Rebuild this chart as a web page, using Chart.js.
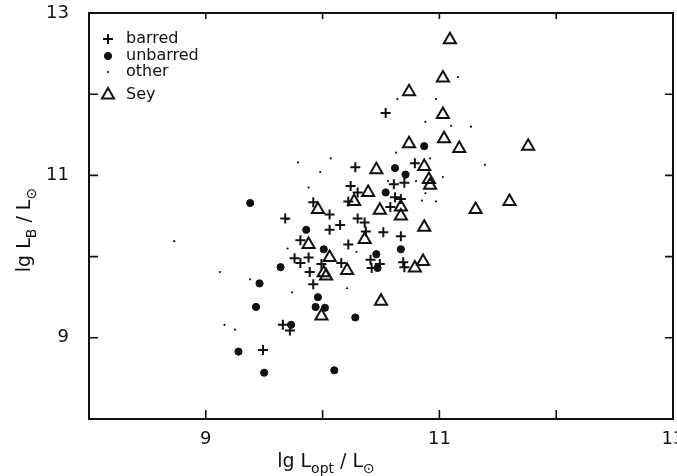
<!DOCTYPE html>
<html>
<head>
<meta charset="utf-8">
<script src="https://cdn.jsdelivr.net/npm/chart.js@4.4.0/dist/chart.umd.min.js"></script>
<style>
  html,body{margin:0;padding:0;background:#fff}
  #wrap{width:677px;height:476px;position:relative}
</style>
</head>
<body>
<div id="wrap"><canvas id="chart"></canvas></div>
<script>
/* ── Data: lg L_opt (x) vs lg L_B (y) ── */
const BARRED_X = [10.54,10.28,10.79,10.24,10.30,10.22,10.61,10.70,10.62,10.58,10.67,9.92,9.68,10.06,10.06,10.15,10.30,10.36,10.52,10.37,10.67,9.81,10.22,9.76,9.88,9.81,9.99,10.16,10.41,10.49,10.69,10.70,10.42,9.89,9.92,9.66,9.72,9.49];
const BARRED_Y = [11.77,11.10,11.15,10.87,10.79,10.68,10.89,10.91,10.73,10.61,10.71,10.67,10.47,10.52,10.33,10.39,10.47,10.42,10.30,10.31,10.25,10.20,10.15,9.98,9.99,9.92,9.91,9.92,9.96,9.91,9.93,9.87,9.86,9.81,9.66,9.16,9.09,8.85];

const UNBARRED_X = [9.38,9.86,10.87,10.62,10.71,10.54,10.01,10.46,10.67,10.47,10.28,9.64,9.46,9.43,9.96,9.94,10.02,9.73,9.28,9.50,10.10];
const UNBARRED_Y = [10.66,10.33,11.36,11.09,11.01,10.79,10.09,10.03,10.09,9.86,9.25,9.87,9.67,9.38,9.50,9.38,9.37,9.16,8.83,8.57,8.60];

const OTHER_X = [11.16,10.64,10.97,10.88,11.10,11.27,10.63,11.39,10.92,11.03,10.85,10.97,10.80,10.56,9.79,10.07,9.98,9.88,10.88,9.70,10.29,8.73,9.70,9.12,9.38,9.16,9.25,9.74,10.21];
const OTHER_Y = [12.21,11.94,11.94,11.66,11.61,11.60,11.28,11.13,11.21,10.98,10.69,10.68,10.93,10.93,11.16,11.21,11.04,10.85,10.78,10.46,10.06,10.19,10.10,9.81,9.72,9.16,9.10,9.56,9.61];

const SEY_X = [11.09,11.03,10.74,11.03,10.74,11.04,11.17,11.76,10.46,10.87,10.91,10.92,9.96,10.39,10.27,10.49,10.67,10.67,11.31,11.60,10.87,10.36,9.88,10.06,10.86,10.21,10.79,10.01,10.03,10.50,9.99];
const SEY_Y = [12.67,12.20,12.03,11.75,11.39,11.45,11.33,11.36,11.07,11.11,10.95,10.88,10.58,10.79,10.68,10.57,10.61,10.50,10.58,10.68,10.36,10.21,10.15,9.99,9.94,9.83,9.86,9.80,9.76,9.45,9.27];

const AXIS_MIN = 8, AXIS_MAX = 13;
const TICK_VALUES = [9,10,11,12];
const LABELLED_TICKS = [9,11,13];
const LEGEND_LABELS = ['barred','unbarred','other','Sey'];

const INK = '#111';
const FONT = "'DejaVu Sans', sans-serif";

const pts = (xs, ys) => xs.map((x,i) => ({x, y:ys[i]}));

/* ── Styles per class ── */
const STYLES = [
  { pointStyle:'cross',    pointRadius:5,   pointBorderWidth:2,   pointBackgroundColor:INK, pointBorderColor:INK },
  { pointStyle:'circle',   pointRadius:3.6, pointBorderWidth:1,   pointBackgroundColor:INK, pointBorderColor:INK },
  { pointStyle:'circle',   pointRadius:1.1, pointBorderWidth:0,   pointBackgroundColor:INK, pointBorderColor:INK },
  { pointStyle:'triangle', pointRadius:7,   pointBorderWidth:2,   pointBackgroundColor:'rgba(255,255,255,0)', pointBorderColor:INK },
];

/* ── Frame, inward ticks, legend, axis titles ── */
function drawRich(ctx, parts, x, y, size) {
  // parts: [text, isSub]
  let w = 0;
  parts.forEach(([t,sub]) => { ctx.font = `${sub?Math.round(size*0.72):size}px ${FONT}`; w += ctx.measureText(t).width; });
  let cx = x - w/2;
  parts.forEach(([t,sub]) => {
    ctx.font = `${sub?Math.round(size*0.72):size}px ${FONT}`;
    ctx.fillText(t, cx, y + (sub ? size*0.32 : 0));
    cx += ctx.measureText(t).width;
  });
}

const decorPlugin = {
  id:'decor',
  beforeDatasetsDraw(chart) {
    const {ctx, chartArea:a, scales:{x,y}} = chart;
    ctx.save();
    ctx.strokeStyle = INK;
    ctx.lineWidth = 2;
    ctx.strokeRect(a.left, a.top, a.right-a.left, a.bottom-a.top);
    ctx.lineWidth = 1.6;
    ctx.beginPath();
    TICK_VALUES.forEach(v => {
      const px = x.getPixelForValue(v), py = y.getPixelForValue(v);
      ctx.moveTo(px, a.bottom); ctx.lineTo(px, a.bottom-9);
      ctx.moveTo(px, a.top);    ctx.lineTo(px, a.top+6);
      ctx.moveTo(a.left, py);   ctx.lineTo(a.left+9, py);
      ctx.moveTo(a.right, py);  ctx.lineTo(a.right-8, py);
    });
    ctx.stroke();
    ctx.restore();
  },
  afterDraw(chart) {
    const {ctx, chartArea:a} = chart;
    ctx.save();
    ctx.fillStyle = INK; ctx.strokeStyle = INK;
    // legend
    const rows = [39, 56, 72, 95];
    LEGEND_LABELS.forEach((lbl,i) => {
      const s = STYLES[i];
      ctx.fillStyle = s.pointBackgroundColor; ctx.strokeStyle = INK; ctx.lineWidth = s.pointBorderWidth;
      Chart.helpers.drawPoint(ctx, { pointStyle:s.pointStyle, radius:s.pointRadius, rotation:0, borderWidth:s.pointBorderWidth }, a.left+19, rows[i]);
      ctx.fillStyle = INK;
      ctx.font = `16px ${FONT}`;
      ctx.textBaseline = 'middle'; ctx.textAlign = 'left';
      ctx.fillText(lbl, a.left+37, rows[i]);
    });
    // axis titles
    ctx.textBaseline = 'alphabetic'; ctx.textAlign = 'left';
    drawRich(ctx, [['lg L',false],['opt',true],[' / L',false],['\u2299',true]], 326, 467, 19);
    ctx.translate(30, 230);
    ctx.rotate(-Math.PI/2);
    drawRich(ctx, [['lg L',false],['B',true],[' / L',false],['\u2299',true]], 0, 0, 19);
    ctx.restore();
  }
};

/* ── Chart ── */
function buildChart() {
  const ctx = document.getElementById('chart').getContext('2d');
  const series = [[BARRED_X,BARRED_Y],[UNBARRED_X,UNBARRED_Y],[OTHER_X,OTHER_Y],[SEY_X,SEY_Y]];
  const tickOpts = {
    stepSize:1, color:INK, autoSkip:false, maxRotation:0,
    font:{family:FONT, size:18},
    callback: v => LABELLED_TICKS.includes(v) ? String(v) : ''
  };
  new Chart(ctx, {
    type:'scatter',
    data:{
      datasets: series.map(([xs,ys],i) => ({ label:LEGEND_LABELS[i], data:pts(xs,ys), showLine:false, ...STYLES[i] }))
    },
    options:{
      responsive:true, maintainAspectRatio:false, animation:false,
      layout:{ autoPadding:false, padding:{ top:13, right:4, left:0, bottom:0 } },
      plugins:{ legend:{display:false}, tooltip:{enabled:false} },
      scales:{
        x:{ type:'linear', min:AXIS_MIN, max:AXIS_MAX,
            grid:{display:false, drawTicks:false}, border:{display:false},
            ticks:{ ...tickOpts, padding:10 },
            afterFit(s){ s.height = 57; s.paddingLeft = 0; s.paddingRight = 0; } },
        y:{ type:'linear', min:AXIS_MIN, max:AXIS_MAX,
            grid:{display:false, drawTicks:false}, border:{display:false},
            ticks:{ ...tickOpts, padding:20 },
            afterFit(s){ s.width = 89; s.paddingTop = 0; s.paddingBottom = 0; } }
      }
    },
    plugins:[decorPlugin]
  });
}

window.addEventListener('DOMContentLoaded', buildChart);
</script>
</body>
</html>
